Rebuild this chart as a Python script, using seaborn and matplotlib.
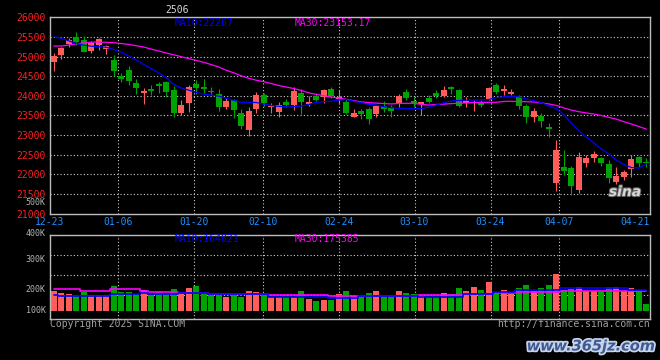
import numpy as np
import pandas as pd
import matplotlib
matplotlib.use("Agg")
import matplotlib.pyplot as plt
import matplotlib.patheffects as pe
import seaborn as sns

# trading-day index of the dated gridlines and their labels
tick_idx = [0, 9, 19, 28, 38, 48, 58, 67, 77]
tick_labels = ['12-23', '01-06', '01-20', '02-10', '02-24', '03-10', '03-24', '04-07', '04-21']

opens = [24863, 25049, 25314, 25492, 25424, 25143, 25296, 25207, 24914, 24506,
         24659, 24336, 24081, 24175, 24310, 24353, 24150, 23571, 23811, 24302,
         24218, 24124, 24048, 23724, 23895, 23571, 23131, 23658, 24022, 23709,
         23597, 23852, 23767, 24081, 23793, 23997, 23979, 24175, 23928, 23852,
         23469, 23622, 23658, 23538, 23742, 23724, 23793, 24099, 23877, 23786,
         23953, 24081, 23997, 24226, 24150, 23811, 23826, 23810, 23895, 24277,
         24132, 24048, 23997, 23742, 23454, 23487, 23214, 21785, 22187, 22162,
         21606, 22281, 22408, 22408, 22255, 21811, 21930, 22132, 22451, 22315]
highs = [25085, 25253, 25467, 25627, 25525, 25406, 25467, 25304, 25041, 24590,
         24761, 24422, 24201, 24269, 24353, 24370, 24259, 23895, 24277, 24404,
         24422, 24218, 24167, 23953, 23913, 23658, 23709, 24106, 24081, 23826,
         23852, 23920, 24218, 24167, 23997, 24065, 24167, 24234, 24150, 23913,
         23658, 23658, 23709, 23767, 23877, 23767, 24048, 24167, 23979, 23852,
         24014, 24150, 24252, 24252, 24167, 23979, 23895, 23895, 24234, 24320,
         24277, 24167, 24022, 23793, 23699, 23555, 23317, 22876, 22621, 22221,
         22570, 22493, 22595, 22451, 22374, 22196, 22102, 22493, 22468, 22408]
lows = [24641, 24947, 25253, 25296, 25118, 25100, 25169, 25067, 24506, 24353,
        24277, 24048, 23793, 24022, 24081, 23979, 23469, 23505, 23589, 24048,
        24081, 24022, 23622, 23658, 23429, 23148, 22977, 23571, 23742, 23571,
        23469, 23709, 23640, 23538, 23742, 23877, 23811, 23938, 23826, 23538,
        23469, 23403, 23283, 23462, 23597, 23469, 23709, 23895, 23724, 23513,
        23826, 23938, 23979, 24048, 23709, 23724, 23622, 23709, 23895, 24048,
        24022, 24022, 23658, 23301, 23342, 23214, 22944, 21571, 21985, 21478,
        21520, 22196, 22323, 22213, 21785, 21754, 21849, 21925, 22179, 22196]
closes = [25016, 25220, 25424, 25373, 25126, 25340, 25449, 25283, 24641, 24437,
          24387, 24201, 24117, 24132, 24259, 24090, 23571, 23767, 24234, 24213,
          24167, 24091, 23709, 23877, 23640, 23232, 23614, 24022, 23811, 23742,
          23767, 23775, 24132, 23852, 23852, 23895, 24150, 23997, 23964, 23571,
          23571, 23538, 23411, 23742, 23658, 23614, 23997, 23953, 23826, 23836,
          23852, 23997, 24150, 24175, 23742, 23877, 23852, 23767, 24193, 24099,
          24167, 24106, 23742, 23454, 23622, 23367, 23148, 22621, 22077, 21692,
          22451, 22408, 22519, 22297, 21916, 21956, 22060, 22391, 22297, 22289]
ma10 = [25508, 25467, 25403, 25337, 25291, 25266, 25253, 25240, 25182, 25113,
        25016, 24914, 24799, 24697, 24583, 24468, 24290, 24201, 24145, 24086,
        24043, 24022, 23992, 23938, 23887, 23836, 23836, 23831, 23793, 23755,
        23734, 23724, 23724, 23742, 23780, 23836, 23852, 23864, 23895, 23905,
        23864, 23826, 23785, 23767, 23724, 23699, 23683, 23683, 23678, 23673,
        23716, 23767, 23826, 23869, 23882, 23895, 23895, 23895, 23908, 23959,
        23976, 23989, 23976, 23925, 23877, 23829, 23747, 23678, 23525, 23309,
        23118, 22952, 22799, 22646, 22519, 22366, 22251, 22175, 22162, 22267]
ma30 = [25271, 25271, 25296, 25327, 25352, 25368, 25373, 25365, 25355, 25334,
        25312, 25278, 25245, 25192, 25143, 25092, 25047, 24998, 24950, 24904,
        24855, 24797, 24736, 24652, 24588, 24511, 24448, 24399, 24361, 24315,
        24264, 24226, 24188, 24137, 24078, 24035, 24007, 23971, 23941, 23913,
        23880, 23846, 23829, 23816, 23806, 23795, 23808, 23811, 23811, 23783,
        23767, 23780, 23790, 23803, 23813, 23821, 23829, 23834, 23836, 23836,
        23859, 23862, 23857, 23852, 23844, 23821, 23795, 23757, 23694, 23640,
        23597, 23566, 23538, 23500, 23454, 23408, 23344, 23283, 23220, 23153]
# volume in thousands
volume = [197, 190, 187, 184, 193, 182, 182, 182, 213, 193,
          193, 186, 200, 182, 192, 187, 203, 193, 207, 213,
          193, 182, 184, 178, 182, 178, 197, 193, 184, 178,
          178, 176, 176, 197, 170, 163, 167, 167, 187, 197,
          180, 176, 190, 197, 178, 178, 197, 190, 187, 180,
          178, 178, 190, 187, 207, 197, 210, 200, 227, 193,
          199, 187, 207, 217, 197, 207, 217, 253, 200, 203,
          210, 197, 197, 197, 210, 210, 197, 207, 197, 153]
vol_ma10 = [182, 180, 180, 180, 180, 180, 180, 180, 186, 186,
            186, 186, 189, 187, 187, 187, 187, 191, 191, 191,
            191, 188, 188, 188, 188, 188, 188, 188, 188, 178,
            178, 178, 178, 178, 178, 178, 178, 172, 172, 172,
            172, 180, 180, 180, 180, 180, 180, 180, 180, 178,
            178, 178, 178, 178, 178, 187, 187, 187, 187, 193,
            193, 193, 200, 200, 200, 200, 200, 200, 206, 206,
            206, 206, 206, 206, 206, 206, 206, 199, 199, 199]
vol_ma30 = [202, 202, 202, 202, 198, 198, 198, 198, 202, 202,
            202, 202, 197, 193, 193, 193, 193, 191, 191, 191,
            191, 188, 188, 188, 188, 188, 188, 188, 188, 184,
            184, 184, 184, 184, 184, 184, 184, 180, 180, 180,
            180, 180, 180, 180, 180, 180, 180, 180, 180, 182,
            182, 182, 182, 182, 182, 187, 187, 187, 187, 189,
            189, 189, 194, 194, 194, 194, 194, 194, 197, 197,
            197, 197, 197, 197, 197, 197, 197, 197, 197, 197]
vol_labels = ['500K', '400K', '300K', '200K', '100K']

RED = '#ff5c5c'
GREEN = '#00a400'
VOL_BASE = 131  # volume bars start here

df = pd.DataFrame({'open': opens, 'high': highs, 'low': lows, 'close': closes,
                   'ma10': ma10, 'ma30': ma30, 'vol': volume,
                   'vma10': vol_ma10, 'vma30': vol_ma30})
df['day'] = np.arange(len(df))
df['color'] = np.where(df['close'] > df['open'], RED, GREEN)

sns.set_theme(style='dark', rc={'figure.facecolor': 'black', 'axes.facecolor': 'black',
                                'savefig.facecolor': 'black'})
plt.rcParams['font.family'] = ['DejaVu Sans Mono', 'DejaVu Sans']

W, H = 660, 360
fig = plt.figure(figsize=(6.6, 3.6), dpi=100)
ax = fig.add_axes([50 / W, 1 - 213.6 / H, 600 / W, 196.2 / H])
axv = fig.add_axes([50 / W, 1 - 318.7 / H, 600 / W, 84 / H])

grid_kw = dict(color='#d0d0d0', lw=0.8, ls=(0, (1, 2)), zorder=1)
grid_x = [i * 80 / 79 - 0.5 for i in tick_idx]

# price panel
for y in range(21500, 26000, 500):
    ax.axhline(y, **grid_kw)
for a in (ax, axv):
    for x in grid_x[1:-1]:
        a.axvline(x, **grid_kw)

ax.vlines(df['day'], df['low'], df['high'], colors=df['color'], lw=0.8, zorder=2)
body = np.maximum((df['close'] - df['open']).abs(), 30)
ax.bar(df['day'], body, bottom=np.minimum(df['open'], df['close']), width=0.8,
       color=df['color'], lw=0, zorder=3)
sns.lineplot(data=df, x='day', y='ma30', ax=ax, color='#ff00ff', lw=0.9, zorder=4)
sns.lineplot(data=df, x='day', y='ma10', ax=ax, color='#0000ff', lw=0.9, zorder=4)

ax.set_xlim(-0.5, 79.5)
ax.set_ylim(21000, 26000)
ax.set_yticks(range(21000, 26001, 500))
ax.set_xticks(grid_x, labels=tick_labels)
ax.tick_params(axis='y', length=0, pad=3, labelsize=7, labelcolor='#ff2020')
ax.tick_params(axis='x', length=0, pad=2.5, labelsize=7, labelcolor='#1e90ff')
ax.set_xlabel('')
ax.set_ylabel('')

# volume panel
axv.bar(df['day'], df['vol'] - VOL_BASE, bottom=VOL_BASE, width=0.8,
        color=df['color'], lw=0, zorder=2)
sns.lineplot(data=df, x='day', y='vma30', ax=axv, color='#ff00ff', lw=1.2,
             drawstyle='steps-mid', zorder=4)
sns.lineplot(data=df, x='day', y='vma10', ax=axv, color='#0000ff', lw=1.2,
             drawstyle='steps-mid', zorder=4)
axv.set_xlim(-0.5, 79.5)
axv.set_ylim(104.3, 384.3)
for y in [182.3, 248.9, 316.7]:
    axv.axhline(y, **grid_kw)
axv.set_xticks([])
axv.set_yticks([])
axv.set_xlabel('')
axv.set_ylabel('')
for v, lab in zip([490, 388, 300, 200, VOL_BASE], vol_labels):
    axv.text(-0.007, v, lab, transform=axv.get_yaxis_transform(), ha='right',
             va='center', fontsize=6, color='#b4b4b4', clip_on=False)

for a in (ax, axv):
    a.grid(False)
    for s in a.spines.values():
        s.set_color('#bdbdbd')
        s.set_linewidth(1)


def ftext(x, y, s, **kw):
    fig.text(x / W, 1 - y / H, s, va='center', fontsize=7, **kw)


ftext(165, 10, '2506', color='#d8d8d8')
ftext(175, 23, 'MA10:22267', color='#0000ff')
ftext(295, 23, 'MA30:23153.17', color='#ff00ff')
ftext(175, 238.5, 'MA10:164821', color='#0000ff')
ftext(295, 238.5, 'MA30:175385', color='#ff00ff')
ftext(50, 324, 'Copyright 2025 SINA.COM', color='#a0a0a0')
ftext(650, 324, 'http://finance.sina.com.cn', color='#a0a0a0', ha='right')

# watermarks
fig.text(625 / W, 1 - 192 / H, 'sina', ha='center', va='center', fontsize=10,
         fontweight='bold', style='italic', color='#d8d8d8', family='DejaVu Sans',
         path_effects=[pe.withStroke(linewidth=1.5, foreground='#606060')])
fig.text(655 / W, 1 - 346 / H, 'www.365jz.com', ha='right', va='center', fontsize=10.5,
         fontweight='bold', style='italic', color='#3d5a96', family='DejaVu Sans',
         path_effects=[pe.withStroke(linewidth=2.5, foreground='#c8d4e8')])

fig.savefig('out.png', dpi=100, facecolor='black')
